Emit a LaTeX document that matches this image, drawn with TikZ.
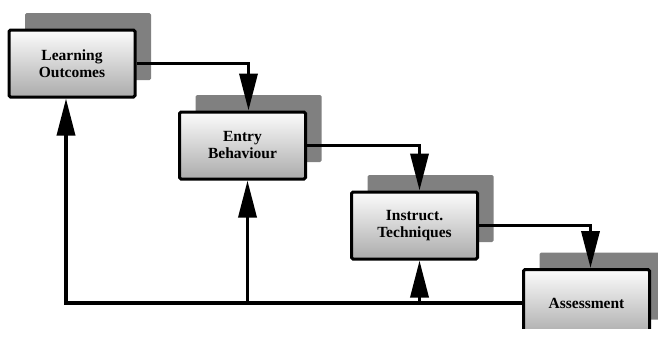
\documentclass[tikz,border=0pt]{standalone}
\usepackage{fontspec}
\setmainfont{Liberation Serif}
\newfontfamily\stagefont{Liberation Serif}
\usepackage{tikz}
\usetikzlibrary{arrows.meta, shadows}

\definecolor{shadowgray}{HTML}{808080}
\definecolor{boxtop}{HTML}{FCFCFC}
\definecolor{boxbottom}{HTML}{ABABAB}

\tikzset{
  stage/.style={draw, line width=3pt, rounded corners=1.5pt,
    top color=boxtop, bottom color=boxbottom,
    minimum width=126pt, minimum height=67pt, inner sep=0pt, align=center,
    font=\stagefont\fontsize{15.5}{17}\selectfont\bfseries,
    general shadow={draw=none, fill=shadowgray, shadow xshift=16pt, shadow yshift=17pt}},
  flow/.style={line width=3.5pt, -{Triangle[length=37pt,width=18pt]}},
}

\begin{document}
\begin{tikzpicture}[x=1pt,y=-1pt]
  \useasboundingbox (0,0) rectangle (658,338);
  \clip (0,0) rectangle (658,328);

  % stages
  \node[stage] (lo) at (72,63.5) {Learning\\Outcomes};
  \node[stage] (eb) at (242.5,145.5) {Entry\\Behaviour};
  \node[stage] (it) at (414.5,225.5) {Instruct.\\Techniques};
  \node[stage] (as) at (586.5,303) {Assessment};

  % forward steps
  \draw[flow] (lo.east) -| ([xshift=6pt]eb.north);
  \draw[flow] (eb.east) -| ([xshift=5pt]it.north);
  \draw[flow] (it.east) -| ([xshift=4pt]as.north);

  % feedback from assessment
  \draw[flow] (as.west) -| ([xshift=-6pt]lo.south);
  \coordinate (ebfoot) at ([xshift=5pt]eb.south |- as.west);
  \coordinate (itfoot) at ([xshift=5pt]it.south |- as.west);
  \draw[flow] (ebfoot) -- ([xshift=5pt]eb.south);
  \draw[flow] (itfoot) -- ([xshift=5pt]it.south);
\end{tikzpicture}
\end{document}
